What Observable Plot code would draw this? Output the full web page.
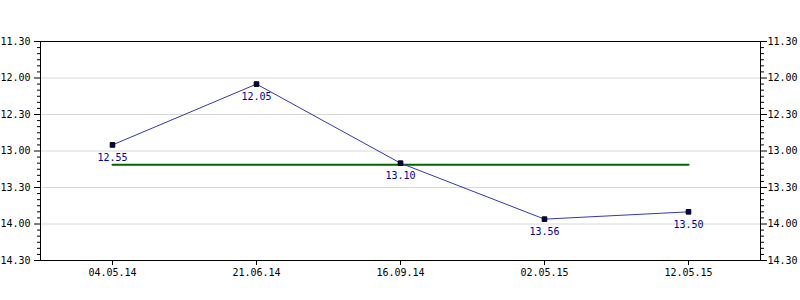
<!DOCTYPE html>
<html>
<head>
<meta charset="utf-8">
<script src="https://cdn.jsdelivr.net/npm/d3@7"></script>
<script src="https://cdn.jsdelivr.net/npm/@observablehq/plot@0.6"></script>
<style>
  html, body { margin: 0; padding: 0; background: #fff; }
</style>
</head>
<body>
<div id="chart"></div>
<script>
const dates = ["04.05.14", "21.06.14", "16.09.14", "02.05.15", "12.05.15"];
const times = ["12.55", "12.05", "13.10", "13.56", "13.50"];
const yTickLabels = ["11.30", "12.00", "12.30", "13.00", "13.30", "14.00", "14.30"];

const toSec = s => { const [m, ss] = s.split("."); return (+m) * 60 + (+ss); };
const fmt = v => { const m = Math.floor(v / 60), s = Math.round(v - m * 60); return m + "." + String(s).padStart(2, "0"); };

const data = dates.map((d, i) => ({date: d, label: times[i], sec: toSec(times[i])}));
const majorTicks = yTickLabels.map(toSec);
const yMin = majorTicks[0], yMax = majorTicks[majorTicks.length - 1];
const minorTicks = d3.range(yMin, yMax + 1, 5).filter(v => !majorTicks.includes(v));
const avg = d3.mean(data, d => d.sec);
const avgLine = [{date: dates[0], sec: avg}, {date: dates[dates.length - 1], sec: avg}];

const chart = Plot.plot({
  width: 800,
  height: 300,
  marginLeft: 40,
  marginRight: 40,
  marginTop: 41,
  marginBottom: 40,
  style: {fontFamily: "'DejaVu Sans Mono', monospace", fontSize: "10px", background: "white", color: "black"},
  x: {type: "point", domain: dates, padding: 0.5, label: null},
  y: {domain: [yMin, yMax], reverse: true, label: null},
  marks: [
    Plot.gridY(majorTicks.slice(1, -1), {stroke: "#d8d8d8", strokeOpacity: 1}),
    Plot.frame({stroke: "black"}),
    Plot.axisY(majorTicks, {anchor: "left", tickSize: 6, tickPadding: 4, tickFormat: fmt, label: null}),
    Plot.axisY(minorTicks, {anchor: "left", tickSize: 3, fill: "none", label: null}),
    Plot.axisY(majorTicks, {anchor: "right", tickSize: 6, tickPadding: 1, tickFormat: fmt, label: null}),
    Plot.axisY(minorTicks, {anchor: "right", tickSize: 3, fill: "none", label: null}),
    Plot.axisX({tickSize: 5, tickPadding: 3, label: null}),
    Plot.line(avgLine, {x: "date", y: "sec", stroke: "#006400", strokeWidth: 2}),
    Plot.line(data, {x: "date", y: "sec", stroke: "#3636b0", strokeWidth: 1}),
    Plot.dot(data, {x: "date", y: "sec", symbol: "square", r: 2.6, fill: "#000066", stroke: "black", strokeWidth: 1}),
    Plot.text(data, {x: "date", y: "sec", text: "label", dy: 13, fill: "#0000a0", fontSize: 10})
  ]
});
document.getElementById("chart").appendChild(chart);
</script>
</body>
</html>
